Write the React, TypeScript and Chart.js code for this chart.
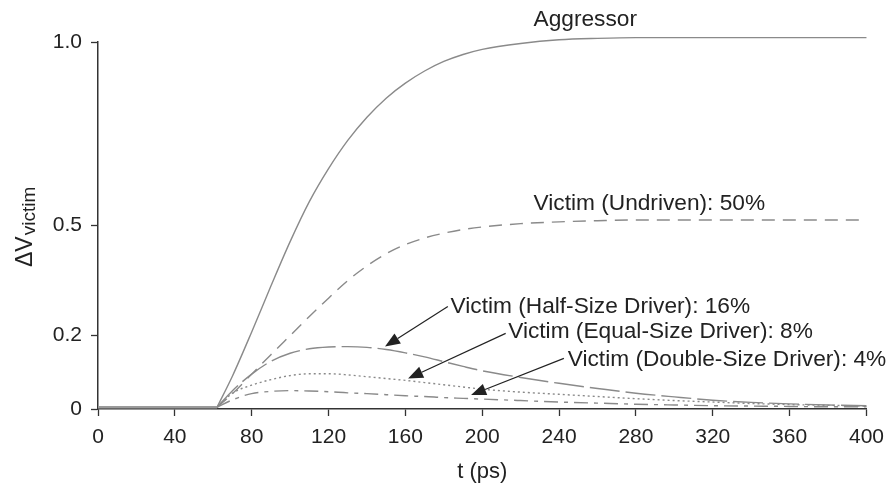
import React, { useEffect, useRef } from 'react';
import { Chart, registerables } from 'chart.js';

Chart.register(...registerables);

const FONT = '"Liberation Sans", Arial, Helvetica, sans-serif';

// Shared flat segment before the aggressor switches (all signals at ~0)
const preTimes = [0, 62];
const preValues = [0.005, 0.005];

// Time samples (ps) for the switching part
const times = [62, 70, 80, 90, 100, 110, 120, 130, 140, 150, 160, 170, 180, 190, 200, 220, 240, 260, 280, 300, 320, 340, 360, 380, 400];

const aggressor = [0.005, 0.09, 0.21, 0.335, 0.456, 0.565, 0.655, 0.732, 0.795, 0.847, 0.888, 0.921, 0.947, 0.966, 0.98, 0.996, 1.006, 1.01, 1.012, 1.012, 1.012, 1.012, 1.012, 1.012, 1.012];
const victimUndriven = [0.005, 0.042, 0.095, 0.148, 0.2, 0.252, 0.302, 0.35, 0.39, 0.423, 0.448, 0.466, 0.479, 0.489, 0.496, 0.505, 0.51, 0.513, 0.515, 0.515, 0.515, 0.515, 0.515, 0.515, 0.515];
const victimHalf = [0.005, 0.05, 0.095, 0.13, 0.152, 0.164, 0.169, 0.17, 0.168, 0.162, 0.153, 0.142, 0.129, 0.116, 0.104, 0.086, 0.07, 0.056, 0.043, 0.033, 0.024, 0.018, 0.014, 0.011, 0.009];
const victimEqual = [0.005, 0.043, 0.065, 0.08, 0.091, 0.096, 0.096, 0.093, 0.088, 0.083, 0.078, 0.072, 0.066, 0.06, 0.054, 0.046, 0.04, 0.034, 0.028, 0.023, 0.019, 0.015, 0.012, 0.01, 0.008];
const victimDouble = [0.005, 0.025, 0.042, 0.048, 0.05, 0.049, 0.047, 0.044, 0.042, 0.039, 0.036, 0.034, 0.031, 0.029, 0.027, 0.023, 0.019, 0.016, 0.013, 0.011, 0.009, 0.008, 0.007, 0.006, 0.006];

const xTickStep = 40;
const yTickValues = [0, 0.2, 0.5, 1.0];

// Annotation texts (data-coordinates of text start / baseline)
const labelTexts = ['Aggressor', 'Victim (Undriven): 50%', 'Victim (Half-Size Driver): 16%', 'Victim (Equal-Size Driver): 8%', 'Victim (Double-Size Driver): 4%'];
const labelT = [226.7, 226.7, 183.5, 213.5, 244.5];
const labelV = [1.044, 0.542, 0.261, 0.193, 0.118];

// Arrows from label to curve
const arrowTailT = [182.1, 212.2, 242.5];
const arrowTailV = [0.279, 0.206, 0.138];
const arrowTipT = [149.4, 161.4, 194.2];
const arrowTipV = [0.17, 0.083, 0.038];

export default function App() {
  const ref = useRef<HTMLCanvasElement>(null);

  useEffect(() => {
    if (!ref.current) return;
    const toXY = (ts: number[], vs: number[]) => ts.map((t, i) => ({ x: t, y: vs[i] }));
    const lineColor = '#8a8a8a';

    const annotationPlugin = {
      id: 'annotations',
      afterDatasetsDraw(chart: any) {
        const { ctx, scales } = chart;
        const xs = scales.x;
        const ys = scales.y;
        ctx.save();
        ctx.fillStyle = '#222';
        ctx.font = `22.7px ${FONT}`;
        ctx.textBaseline = 'alphabetic';
        ctx.textAlign = 'left';
        labelTexts.forEach((txt, i) => {
          ctx.fillText(txt, xs.getPixelForValue(labelT[i]), ys.getPixelForValue(labelV[i]));
        });
        // arrows
        ctx.strokeStyle = '#222';
        ctx.lineWidth = 1.2;
        for (let i = 0; i < arrowTailT.length; i++) {
          const x1 = xs.getPixelForValue(arrowTailT[i]);
          const y1 = ys.getPixelForValue(arrowTailV[i]);
          const x2 = xs.getPixelForValue(arrowTipT[i]);
          const y2 = ys.getPixelForValue(arrowTipV[i]);
          const ang = Math.atan2(y2 - y1, x2 - x1);
          const headLen = 15;
          const headW = 6;
          const bx = x2 - headLen * Math.cos(ang);
          const by = y2 - headLen * Math.sin(ang);
          ctx.beginPath();
          ctx.moveTo(x1, y1);
          ctx.lineTo(bx, by);
          ctx.stroke();
          ctx.beginPath();
          ctx.moveTo(x2, y2);
          ctx.lineTo(bx + headW * Math.sin(ang), by - headW * Math.cos(ang));
          ctx.lineTo(bx - headW * Math.sin(ang), by + headW * Math.cos(ang));
          ctx.closePath();
          ctx.fill();
        }
        // y-axis title with subscript
        ctx.translate(32, 267);
        ctx.rotate(-Math.PI / 2);
        ctx.font = `23px ${FONT}`;
        ctx.fillText('ΔV', 0, 0);
        const w = ctx.measureText('ΔV').width;
        ctx.font = `19px ${FONT}`;
        ctx.fillText('victim', w + 1, 3);
        ctx.restore();
      },
    };

    const common = {
      borderColor: lineColor,
      borderWidth: 1.4,
      fill: false,
      pointRadius: 0,
      cubicInterpolationMode: 'monotone' as const,
      clip: false as any,
    };

    const chart = new Chart(ref.current, {
      type: 'line',
      data: {
        datasets: [
          { ...common, label: 'pre', data: toXY(preTimes, preValues), borderWidth: 2.5, borderColor: '#9a9a9a' },
          { ...common, label: 'Aggressor', data: toXY(times, aggressor) },
          { ...common, label: 'Victim (Undriven)', data: toXY(times, victimUndriven), borderDash: [13, 8] },
          { ...common, label: 'Victim (Half-Size Driver)', data: toXY(times, victimHalf), borderDash: [30, 6] },
          { ...common, label: 'Victim (Equal-Size Driver)', data: toXY(times, victimEqual), borderDash: [2, 3] },
          { ...common, label: 'Victim (Double-Size Driver)', data: toXY(times, victimDouble), borderDash: [14, 6, 4, 6] },
        ],
      },
      options: {
        animation: false,
        responsive: false,
        events: [],
        layout: { padding: { top: 42, right: 22, left: 0, bottom: 0 } },
        plugins: { legend: { display: false }, tooltip: { enabled: false } },
        scales: {
          x: {
            type: 'linear',
            min: 0,
            max: 400,
            afterFit(s: any) { s.height = 80; },
            ticks: { stepSize: xTickStep, color: '#222', font: { family: FONT, size: 21 }, padding: 9, maxRotation: 0 },
            grid: { drawOnChartArea: false, drawTicks: true, tickLength: 7, tickColor: '#333', tickWidth: 1.3 },
            border: { display: true, color: '#333', width: 1.5 },
            title: { display: true, text: 't (ps)', color: '#222', font: { family: FONT, size: 22 }, padding: { top: 0, bottom: 4 } },
          },
          y: {
            type: 'linear',
            min: 0,
            max: 1,
            afterFit(s: any) { s.width = 98; },
            afterBuildTicks(s: any) { s.ticks = yTickValues.map((v) => ({ value: v })); },
            ticks: {
              color: '#222',
              font: { family: FONT, size: 21 },
              padding: 9,
              callback: (v: any) => (Number(v) === 0 ? '0' : Number(v).toFixed(1)),
            },
            grid: { drawOnChartArea: false, drawTicks: true, tickLength: 7, tickColor: '#333', tickWidth: 1.3 },
            border: { display: true, color: '#333', width: 1.5 },
          },
        },
      },
      plugins: [annotationPlugin],
    });
    return () => chart.destroy();
  }, []);

  return (
    <canvas
      ref={ref}
      width={893}
      height={489}
      style={{ position: 'fixed', left: 0, top: 0, width: 893, height: 489, background: '#fff' }}
    />
  );
}
